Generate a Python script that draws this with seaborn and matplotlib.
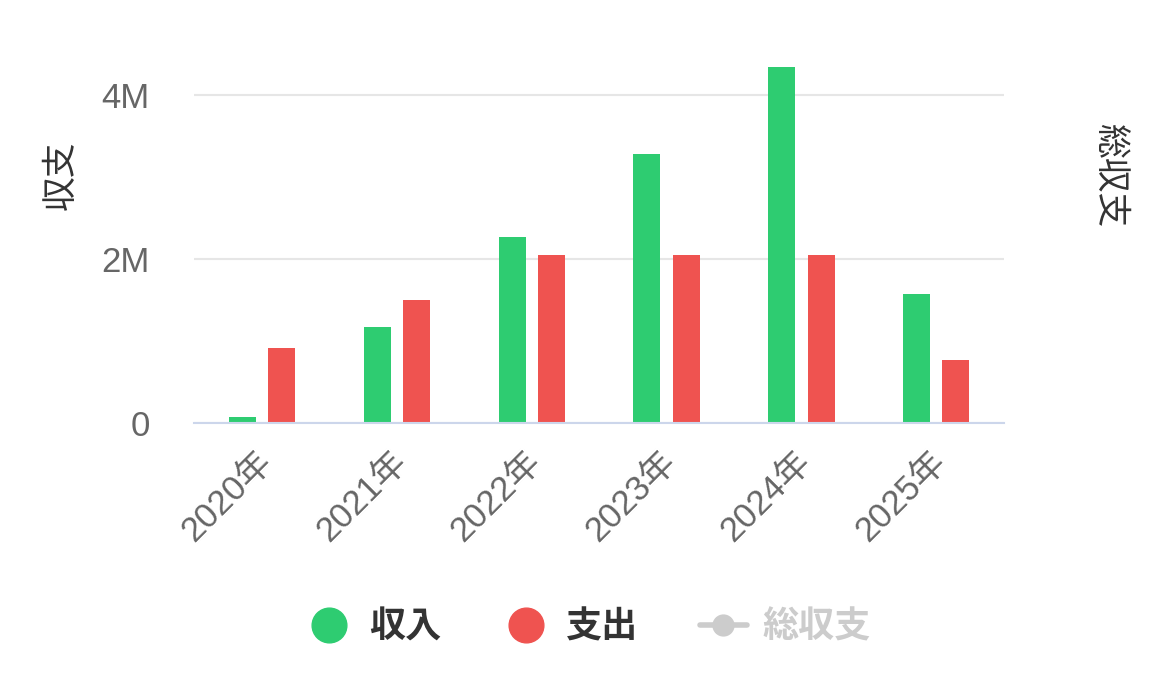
import numpy as np
import pandas as pd
import matplotlib
matplotlib.use("Agg")
import matplotlib.pyplot as plt
import matplotlib.transforms as mtransforms
import seaborn as sns
from matplotlib.lines import Line2D
from matplotlib.ticker import FixedLocator, FuncFormatter

# data (yen)
years = ["2020年", "2021年", "2022年", "2023年", "2024年", "2025年"]
income = [73000, 1170000, 2270000, 3280000, 4340000, 1570000]
expense = [917000, 1500000, 2050000, 2050000, 2050000, 770000]
series_names = ["収入", "支出", "総収支"]
y_ticks = [0, 2000000, 4000000]
tick_labels = ["0", "2M", "4M"]

GREEN = "#2ecc71"
RED = "#ef5350"

sns.set_theme(style="white")
plt.rcParams["font.family"] = ["Liberation Sans", "Noto Sans CJK JP"]

df = pd.DataFrame({
    "year": years * 2,
    "value": income + expense,
    "kind": [series_names[0]] * len(years) + [series_names[1]] * len(years),
})

fig = plt.figure(figsize=(11.7, 6.78), dpi=100)
ax = fig.add_axes([0.166, 0.376, 0.692, 0.532])

sns.barplot(data=df, x="year", y="value", hue="kind", palette=[GREEN, RED],
            width=0.58, gap=0.31, saturation=1, ax=ax, legend=False,
            errorbar=None, linewidth=0)

ax.set_xlim(-0.5, len(years) - 0.5)
ax.set_ylim(0, 4.4e6)
ax.yaxis.set_major_locator(FixedLocator(y_ticks))
ax.yaxis.set_major_formatter(FuncFormatter(
    lambda v, p: tick_labels[y_ticks.index(int(round(v)))] if int(round(v)) in y_ticks else ""))
ax.grid(axis="y", color="#e6e6e6", linewidth=1.5)
ax.set_axisbelow(True)
for s in ["top", "right", "left"]:
    ax.spines[s].set_visible(False)
ax.spines["bottom"].set_color("#ccd6eb")
ax.spines["bottom"].set_linewidth(1.5)
ax.tick_params(axis="both", length=0, labelsize=25, colors="#666666")
ax.tick_params(axis="y", pad=32)
ax.tick_params(axis="x", pad=16)
shift = mtransforms.ScaledTranslation(-7 / 100, 0, fig.dpi_scale_trans)
for lab in ax.get_xticklabels():
    lab.set_rotation(45)
    lab.set_ha("right")
    lab.set_rotation_mode("anchor")
    lab.set_transform(lab.get_transform() + shift)

ax.set_xlabel("")
ax.set_ylabel("")
fig.text(0.052, 0.742, "収支", rotation=90, fontsize=25, color="#333333",
         ha="center", va="center")
fig.text(0.948, 0.742, "総収支", rotation=270, fontsize=25, color="#333333",
         ha="center", va="center")

handles = [
    Line2D([], [], linestyle="none", marker="o", markersize=25, color=GREEN),
    Line2D([], [], linestyle="none", marker="o", markersize=25, color=RED),
    Line2D([], [], color="#cccccc", linewidth=4, marker="o", markersize=15),
]
leg = fig.legend(handles, series_names, loc="center", bbox_to_anchor=(0.503, 0.074),
                 ncol=3, frameon=False, prop={"size": 26, "weight": "bold"},
                 handlelength=1.3, handletextpad=0.45, columnspacing=1.7)
for t, c in zip(leg.get_texts(), ["#333333", "#333333", "#cccccc"]):
    t.set_color(c)

fig.savefig("out.png", dpi=100)
